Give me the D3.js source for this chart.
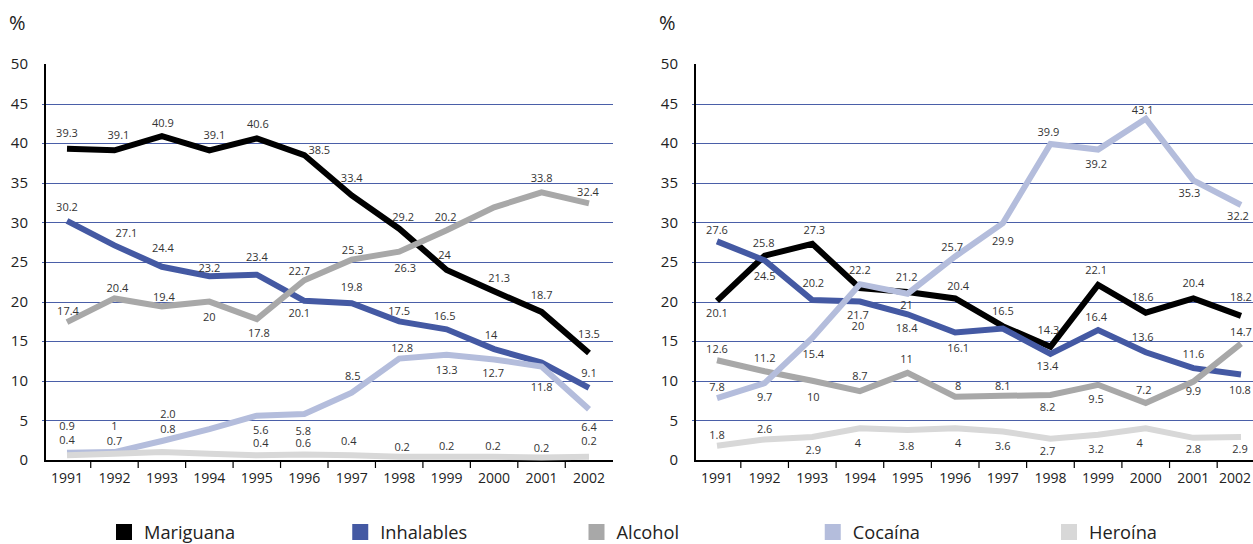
<!DOCTYPE html>
<html>
<head>
<meta charset="utf-8">
<script src="https://cdn.jsdelivr.net/npm/d3@7"></script>
<style>
  body { margin: 0; background: #fff; }
  svg { display: block; font-family: "Open Sans", sans-serif; }
</style>
</head>
<body>
<svg id="chart" width="1253" height="544"></svg>
<script>
// Years on the x axis
const years = ['1991', '1992', '1993', '1994', '1995', '1996', '1997', '1998', '1999', '2000', '2001', '2002'];
const yTicks = [0, 5, 10, 15, 20, 25, 30, 35, 40, 45, 50];
const seriesNames = ['Mariguana', 'Inhalables', 'Alcohol', 'Cocaína', 'Heroína'];

// Left panel values (%)
const leftMariguana = [39.3, 39.1, 40.9, 39.1, 40.6, 38.5, 33.4, 29.2, 24.0, 21.3, 18.7, 13.5];
const leftInhalables = [30.2, 27.1, 24.4, 23.2, 23.4, 20.1, 19.8, 17.5, 16.5, 14.0, 12.3, 9.1];
const leftAlcohol = [17.4, 20.4, 19.4, 20.0, 17.8, 22.7, 25.3, 26.3, 29.0, 31.9, 33.8, 32.4];
const leftCocaina = [0.9, 1.0, 2.4, 3.9, 5.6, 5.8, 8.5, 12.8, 13.3, 12.7, 11.8, 6.4];
const leftHeroina = [0.6, 0.8, 1.0, 0.8, 0.6, 0.7, 0.6, 0.4, 0.4, 0.4, 0.3, 0.4];

// Right panel values (%)
const rightMariguana = [20.1, 25.8, 27.3, 21.7, 21.2, 20.4, 16.9, 14.3, 22.1, 18.6, 20.4, 18.2];
const rightInhalables = [27.6, 25.2, 20.2, 20.0, 18.4, 16.1, 16.6, 13.4, 16.4, 13.6, 11.6, 10.8];
const rightAlcohol = [12.6, 11.2, 10.0, 8.7, 11.0, 8.0, 8.1, 8.2, 9.5, 7.2, 9.9, 14.7];
const rightCocaina = [7.8, 9.7, 15.4, 22.2, 21.0, 25.7, 29.9, 39.9, 39.2, 43.1, 35.3, 32.2];
const rightHeroina = [1.8, 2.6, 2.9, 4.0, 3.8, 4.0, 3.6, 2.7, 3.2, 4.0, 2.8, 2.9];

// Point labels as printed in the source (null = no label)
const leftMariguanaText = ['39.3', '39.1', '40.9', '39.1', '40.6', '38.5', '33.4', '29.2', '24', '21.3', '18.7', '13.5'];
const leftInhalablesText = ['30.2', '27.1', '24.4', '23.2', '23.4', '20.1', '19.8', '17.5', '16.5', '14', null, '9.1'];
const leftAlcoholText = ['17.4', '20.4', '19.4', '20', '17.8', '22.7', '25.3', '26.3', '20.2', null, '33.8', '32.4'];
const leftCocainaText = ['0.9', '1', '2.0', null, '5.6', '5.8', '8.5', '12.8', '13.3', '12.7', '11.8', '6.4'];
const leftHeroinaText = ['0.4', '0.7', '0.8', null, '0.4', '0.6', '0.4', '0.2', '0.2', '0.2', '0.2', '0.2'];

const rightMariguanaText = ['20.1', '25.8', '27.3', '21.7', '21.2', '20.4', '16.5', '14.3', '22.1', '18.6', '20.4', '18.2'];
const rightInhalablesText = ['27.6', '24.5', '20.2', '20', '18.4', '16.1', null, '13.4', '16.4', '13.6', '11.6', '10.8'];
const rightAlcoholText = ['12.6', '11.2', '10', '8.7', '11', '8', '8.1', '8.2', '9.5', '7.2', '9.9', '14.7'];
const rightCocainaText = ['7.8', '9.7', '15.4', '22.2', '21', '25.7', '29.9', '39.9', '39.2', '43.1', '35.3', '32.2'];
const rightHeroinaText = ['1.8', '2.6', '2.9', '4', '3.8', '4', '3.6', '2.7', '3.2', '4', '2.8', '2.9'];

// Label nudges [dx, dy] in pixels from each point
const leftOffsets = [
  [[0,-16],[4,-15],[1,-13],[5,-15],[1,-14],[15,-5],[0,-17],[4,-12],[-2,-15],[5,-13],[0,-17],[0,-19]],
  [[0,-14],[12,-12],[1,-19],[0,-8],[0,-18],[-5,12],[0,-16],[0,-10],[-2,-13],[-3,-14],null,[0,-15]],
  [[1,-11],[3,-10],[2,-9],[0,16],[2,14],[-5,-9],[1,-9],[6,16],[-1,-13],null,[0,-14],[-1,-11]],
  [[0,-27],[0,-26],[6,-27],null,[4,15],[-1,17],[1,-17],[3,-10],[0,15],[-1,14],[0,21],[0,18]],
  [[0,-15],[0,-13],[6,-23],null,[4,-12],[-1,-11],[-3,-14],[3,-10],[0,-11],[-1,-11],[0,-9],[0,-16]]
];
const rightOffsets = [
  [[0,12],[-1,-13],[2,-14],[-2,27],[-1,-15],[3,-12],[0,-15],[-2,-17],[-2,-15],[-3,-16],[0,-15],[0,-19]],
  [[0,-11],[0,16],[1,-17],[-2,25],[-1,14],[3,16],null,[-3,12],[-2,-13],[-3,-15],[0,-14],[-1,16]],
  [[0,-11],[0,-13],[1,16],[0,-15],[-1,-14],[3,-10],[0,-10],[-3,12],[-2,14],[-2,-13],[0,10],[0,-11]],
  [[0,-11],[0,14],[1,16],[0,-14],[-1,11],[-3,-9],[0,18],[-2,-12],[-2,15],[-3,-8],[-4,13],[-3,11]],
  [[0,-11],[0,-10],[1,13],[-2,15],[-1,16],[3,15],[0,15],[-3,13],[-2,14],[-6,15],[0,11],[-1,12]]
];

const colors = ['#000000', '#4459a3', '#a8a8a8', '#b4bddc', '#d8d8d8'];
const gridColor = '#4a5fa8';

const svg = d3.select('#chart');
const y = d3.scaleLinear().domain([0, 50]).range([460, 64]);

const panels = [
  {
    axisX: 45, endX: 613, first: 67, last: 589,
    values: [leftMariguana, leftInhalables, leftAlcohol, leftCocaina, leftHeroina],
    texts: [leftMariguanaText, leftInhalablesText, leftAlcoholText, leftCocainaText, leftHeroinaText],
    offsets: leftOffsets
  },
  {
    axisX: 695, endX: 1253, first: 717, last: 1241,
    values: [rightMariguana, rightInhalables, rightAlcohol, rightCocaina, rightHeroina],
    texts: [rightMariguanaText, rightInhalablesText, rightAlcoholText, rightCocainaText, rightHeroinaText],
    offsets: rightOffsets
  }
];

panels.forEach(function(p) {
  const x = d3.scalePoint().domain(years).range([p.first, p.last]);
  const g = svg.append('g');

  // horizontal grid
  g.selectAll('line.grid')
    .data(yTicks.filter(d => d > 0 && d < 50))
    .enter().append('line')
    .attr('x1', p.axisX - 3).attr('x2', p.endX)
    .attr('y1', d => Math.round(y(d)) + 0.5).attr('y2', d => Math.round(y(d)) + 0.5)
    .attr('stroke', gridColor).attr('stroke-width', 1);

  // y labels
  g.selectAll('text.ylab')
    .data(yTicks)
    .enter().append('text')
    .attr('x', p.axisX - 17)
    .attr('y', d => y(d))
    .attr('dy', '0.35em')
    .attr('text-anchor', 'end')
    .attr('font-size', 15)
    .attr('fill', '#222')
    .text(d => d);

  g.append('text')
    .attr('x', p.axisX - 36).attr('y', 30)
    .attr('font-size', 20).attr('fill', '#222')
    .text('%');

  // axes
  g.append('line')
    .attr('x1', p.axisX).attr('x2', p.axisX)
    .attr('y1', y(50)).attr('y2', y(0) + 1)
    .attr('stroke', '#000').attr('stroke-width', 2);
  g.append('line')
    .attr('x1', p.axisX - 1).attr('x2', p.endX)
    .attr('y1', y(0) + 1).attr('y2', y(0) + 1)
    .attr('stroke', '#000').attr('stroke-width', 2);

  // ticks between years
  const step = x.step();
  g.selectAll('line.tick')
    .data(years.slice(1))
    .enter().append('line')
    .attr('x1', d => x(d) - step / 2).attr('x2', d => x(d) - step / 2)
    .attr('y1', y(0) + 1).attr('y2', y(0) + 8)
    .attr('stroke', '#000').attr('stroke-width', 1.2);

  g.selectAll('text.xlab')
    .data(years)
    .enter().append('text')
    .attr('x', d => Math.min(x(d), p.endX - 18))
    .attr('y', 483)
    .attr('text-anchor', 'middle')
    .attr('font-size', 14)
    .attr('fill', '#222')
    .text(d => d);

  // lines
  const line = d3.line()
    .x((d, i) => x(years[i]))
    .y(d => y(d));

  p.values.forEach(function(vals, s) {
    g.append('path')
      .datum(vals)
      .attr('d', line)
      .attr('fill', 'none')
      .attr('stroke', colors[s])
      .attr('stroke-width', 6);
  });

  // point labels
  p.values.forEach(function(vals, s) {
    const items = vals.map((v, i) => ({ v: v, i: i, t: p.texts[s][i], o: p.offsets[s][i] }))
      .filter(d => d.t !== null && d.o);
    g.selectAll(null)
      .data(items)
      .enter().append('text')
      .attr('x', d => x(years[d.i]) + d.o[0])
      .attr('y', d => y(d.v) + d.o[1])
      .attr('dy', '0.35em')
      .attr('text-anchor', 'middle')
      .attr('font-size', 11)
      .attr('fill', '#333')
      .text(d => d.t);
  });
});

// legend
const lx = d3.scalePoint().domain(seriesNames).range([116, 1061]);
const legend = svg.selectAll('g.legend')
  .data(seriesNames)
  .enter().append('g')
  .attr('transform', d => 'translate(' + lx(d) + ',524)');

legend.append('rect')
  .attr('width', 16).attr('height', 16)
  .attr('fill', (d, i) => colors[i]);

legend.append('text')
  .attr('transform', 'translate(28,15) scale(0.96,1)')
  .attr('font-size', 19)
  .attr('fill', '#222')
  .text(d => d);
</script>
</body>
</html>
